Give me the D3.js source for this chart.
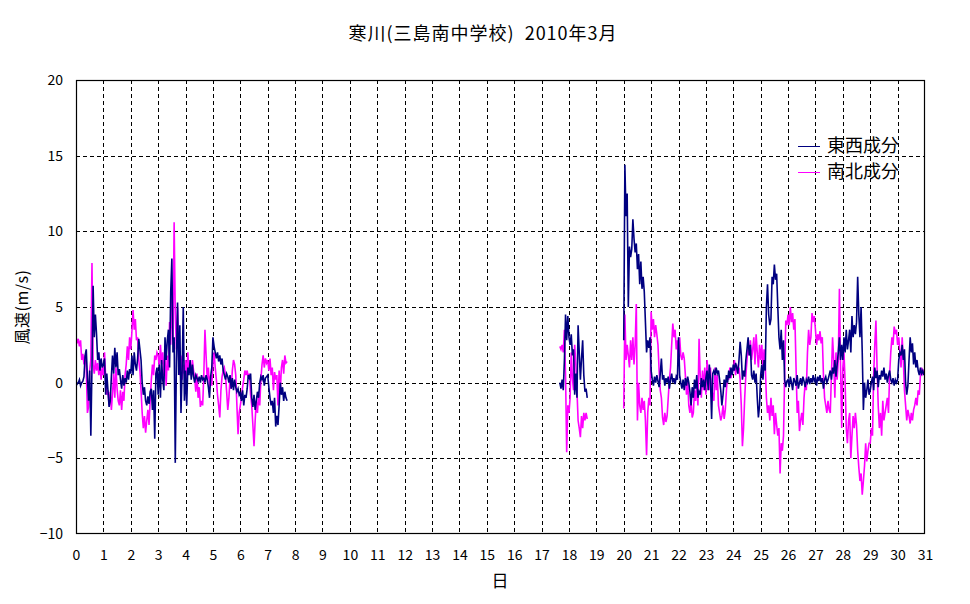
<!DOCTYPE html>
<html>
<head>
<meta charset="utf-8">
<script src="https://cdn.jsdelivr.net/npm/d3@7"></script>
<style>
  html, body { margin: 0; padding: 0; background: #fff; }
  svg { display: block; }
  text { font-family: "Noto Sans CJK JP", "Noto Sans", sans-serif; fill: #000; }
</style>
</head>
<body>
<svg id="chart" width="970" height="604"></svg>
<script>
// ---------- data (hourly values, m/s) ----------
const titleText = "寒川(三島南中学校)\u00a0\u00a02010年3月";
const yLabel = "風速(m/s)";
const xLabel = "日";
const seriesNames = ["東西成分", "南北成分"];
const dayTicks = d3.range(0, 32);
const yTicks = [-10, -5, 0, 5, 10, 15, 20];

// segment 1: starts day 0
const seg1Start = 0;
const ew1 = [
  0.1,-0.1,0.0,0.2,-0.2,0.0,0.1,0.4,1.8,2.2,0.3,-1.2,0.8,-3.5,1.0,6.4,3.0,4.5,3.2,1.5,2.0,0.8,1.6,1.0,
  1.2,1.6,-0.8,0.6,-0.5,-1.6,-1.2,0.4,1.8,0.6,2.3,1.0,2.0,0.5,0.9,0.2,-0.4,0.5,-0.2,0.3,0.0,0.8,0.2,0.9,
  0.6,1.8,0.5,2.0,1.2,0.8,1.6,2.9,2.2,1.5,0.0,-0.8,-0.3,-1.2,-1.5,-0.9,-1.4,-0.6,-0.4,-1.8,-0.5,-3.7,0.6,1.0,
  -0.8,1.2,-1.0,1.5,0.2,-0.5,3.0,1.5,2.8,3.5,1.0,6.0,8.2,2.0,3.0,-5.3,1.5,5.3,0.5,3.8,-2.0,0.8,5.0,-1.2,
  0.8,-1.5,1.0,0.5,1.5,0.2,1.2,0.4,0.0,0.5,0.3,0.1,0.4,0.0,0.5,0.2,0.3,0.0,0.5,0.2,-0.3,-1.0,0.4,1.0,
  3.0,2.4,2.0,1.6,2.0,1.4,1.8,1.2,1.6,0.8,0.5,0.2,0.6,0.4,0.0,0.5,-0.4,0.3,-0.5,0.2,-0.3,-0.6,-0.4,-0.8,
  -0.6,-1.2,-0.5,-1.5,-0.8,-1.0,-0.4,0.5,0.3,0.6,-1.0,-1.6,-0.8,-1.8,-1.2,-0.6,-1.0,0.0,0.4,0.2,0.5,-0.2,0.3,0.4,
  0.5,-0.3,-1.0,-1.5,-1.2,-2.0,-1.0,-2.9,-2.2,-2.8,-1.5,0.0,-0.8,-0.3,-1.2,-0.6,-1.0,-1.2
];
const ns1 = [
  3.0,2.6,2.9,2.4,2.8,1.5,1.9,1.2,1.8,0.9,-2.0,-1.6,0.8,1.5,7.9,1.2,0.6,1.5,0.8,1.3,0.5,1.2,0.2,1.0,
  0.5,2.0,0.3,-0.8,-0.5,-1.5,-0.6,-1.8,-0.7,0.6,-1.0,1.0,-0.4,-1.2,-1.5,-0.5,-1.8,-0.6,-1.2,0.5,1.2,2.4,1.5,3.0,
  2.2,3.4,4.8,3.5,4.2,2.8,3.0,1.5,0.8,-0.5,-2.0,-3.0,-2.2,-3.3,-2.5,-1.8,-2.8,-1.2,0.2,1.2,0.5,1.8,1.5,2.0,
  1.8,1.0,2.5,1.2,2.0,0.5,1.5,-0.2,1.8,0.8,4.0,2.5,5.8,3.0,10.6,4.5,2.2,5.0,1.5,0.5,1.8,0.2,1.2,0.6,
  1.5,0.2,2.0,0.8,1.2,0.5,1.5,0.8,0.3,-0.6,0.6,-1.0,-0.3,-1.6,-1.2,-1.5,0.5,3.5,1.8,0.2,1.0,-0.4,0.5,-0.2,
  1.2,2.0,1.0,0.2,-0.8,-1.5,-2.3,-0.5,0.4,0.8,1.0,0.5,-0.6,-1.8,-1.0,0.3,-0.4,0.8,1.5,1.2,0.5,-1.5,-3.4,-2.0,
  -1.5,-1.0,-0.3,0.2,0.8,0.5,0.8,0.3,0.6,-0.8,-1.5,-2.8,-4.2,-2.5,-1.2,-2.0,-0.8,-1.5,0.2,1.2,1.8,1.0,1.6,1.3,
  1.5,0.8,1.6,0.5,1.0,-0.5,0.7,0.2,0.5,-1.5,0.8,-0.6,1.0,1.5,0.6,1.8,1.3,1.4
];

// segment 2: starts day 17 + 16h
const seg2Start = 17 + 16 / 24;
const ew2 = [0.0,-0.4,0.2,-0.5,1.5,4.5,2.8,4.4,3.0,2.5,3.2,1.8,2.2,-0.8,0.6,-1.0,3.8,2.0,0.2,1.6,2.8,0.5,-0.6,-0.4,-1.0];
const ns2 = [2.4,2.2,2.5,2.0,3.5,0.5,-4.6,-1.5,-2.0,-1.0,2.0,0.3,-0.5,2.5,1.2,-0.5,-2.5,-3.0,-3.6,-2.2,-3.0,-2.0,-2.5,-2.0,-2.4];

// segment 3: starts day 20
const seg3Start = 20;
const ew3 = [
  2.8,14.4,11.0,12.5,5.0,9.0,8.3,8.8,10.8,9.5,8.6,9.2,7.5,8.5,6.5,8.0,6.2,7.0,6.0,4.0,2.0,2.8,2.3,3.0,
  0.8,0.2,-0.2,0.4,0.0,0.5,0.1,-0.3,0.6,1.6,0.2,0.5,-0.2,0.3,0.0,0.4,-0.4,0.2,0.6,0.0,0.3,-0.1,0.4,0.2,
  3.0,0.5,0.0,-0.4,0.2,-0.5,0.3,-0.2,0.4,0.0,-0.6,-1.5,-0.3,-1.0,0.2,-0.4,0.5,-1.0,-0.6,-0.8,0.3,-0.3,0.2,-0.5,
  0.3,0.8,-0.5,1.2,0.2,-2.4,0.6,0.8,0.5,1.0,0.6,0.8,0.2,-0.5,-1.5,-0.8,0.2,-0.3,0.5,0.0,0.8,0.3,1.0,0.5,
  1.2,0.8,1.3,1.0,0.6,1.5,2.7,1.8,0.2,0.8,0.4,1.5,2.2,3.0,1.8,2.5,0.5,0.2,0.8,0.0,0.6,-1.0,-2.3,-1.5,
  0.5,1.2,0.2,1.5,0.8,5.0,6.5,4.5,3.8,4.2,7.0,6.5,7.8,6.8,7.2,5.0,3.0,2.2,3.5,1.5,2.8,0.2,-0.3,0.1,
  0.2,-0.3,0.4,0.0,-0.5,0.3,0.1,-0.2,0.5,-0.4,0.0,0.3,-0.2,0.4,0.1,-0.3,0.2,0.0,0.4,-0.1,0.3,0.0,0.5,0.1,
  0.3,-0.2,0.4,0.1,0.5,0.0,0.3,-0.4,0.2,0.4,0.0,0.2,0.5,0.8,0.2,1.0,0.6,1.5,0.4,1.2,2.0,3.0,1.5,2.5,
  1.5,3.0,2.0,3.5,2.2,2.8,3.5,2.0,4.4,3.0,3.8,3.2,4.0,7.0,4.5,3.0,5.0,2.0,-1.8,0.0,-1.0,-0.5,0.2,-0.8,
  -0.5,0.0,0.4,-0.5,1.0,0.3,0.8,-0.3,0.5,0.2,0.8,0.4,1.0,0.2,0.6,0.0,0.5,0.8,0.2,0.0,0.3,-0.2,0.2,0.0,
  0.2,1.5,2.0,1.8,2.5,1.5,2.2,0.0,-0.8,-0.2,1.5,3.0,2.0,2.6,1.2,2.0,1.0,1.5,0.8,0.5,1.0,0.6,0.8,0.5,
  0.8
];
const ns3 = [
  -1.7,4.5,1.5,2.5,1.8,1.0,2.8,1.5,3.0,1.2,2.5,5.2,-2.5,0.0,-1.5,-2.0,-1.0,-1.8,-1.2,-2.5,-4.8,-2.0,-1.0,-1.5,
  4.7,3.5,4.2,3.0,3.8,3.2,2.5,0.8,-0.5,-1.0,-2.3,-2.8,-2.0,-2.6,-2.2,-1.0,0.2,1.0,2.5,3.9,3.0,3.5,2.2,2.8,
  1.2,3.0,1.8,1.5,2.0,1.6,0.5,-0.8,0.2,-1.5,-2.0,-1.2,-2.3,-2.0,-0.5,-1.2,0.0,-1.5,2.9,0.5,-1.0,0.8,-0.5,1.0,
  -0.8,1.5,0.5,-0.5,1.0,-1.0,-0.8,-1.2,1.0,-0.5,0.5,-1.5,-2.0,-2.5,-2.2,-1.5,-2.4,-1.8,-0.5,0.5,0.2,1.0,0.3,0.8,
  0.8,1.5,0.5,1.2,0.6,1.0,0.2,-1.5,-4.2,-3.0,-1.0,0.5,1.5,2.5,1.8,2.8,1.5,2.2,3.0,1.2,3.2,2.0,1.0,2.5,
  1.5,2.5,1.0,2.2,1.2,-1.0,-2.0,-1.5,-2.5,-1.0,-2.2,-1.5,-3.4,-2.0,-2.8,-3.5,-3.0,-6.0,-4.0,-4.5,-3.5,0.5,4.1,3.8,
  4.5,3.8,5.0,4.0,4.6,3.5,4.2,1.0,-2.0,-1.2,-3.2,-2.5,-2.0,-2.8,-1.0,0.0,-0.5,2.0,3.5,2.5,3.0,4.6,4.0,4.4,
  3.5,2.5,3.2,2.8,3.4,2.6,3.0,0.5,-1.0,-1.5,-2.0,-1.2,-1.8,-2.0,0.5,3.0,1.5,-1.0,2.0,0.2,1.5,6.2,1.0,-3.0,
  1.0,2.0,0.0,-3.0,-4.0,-2.5,-2.0,-5.0,-3.5,-2.2,-3.0,-2.0,-2.8,-4.5,-5.6,-6.5,-6.0,-7.4,-6.5,-5.5,-4.0,-5.2,-4.5,-4.0,
  -4.0,-3.0,-3.5,0.5,2.5,4.1,1.0,-1.5,-3.0,-2.0,-3.5,-1.2,-2.5,-2.0,-1.5,-1.0,-2.0,0.5,2.0,3.0,2.5,3.7,3.2,3.5,
  2.5,3.0,2.0,1.0,3.0,1.5,-0.5,-1.5,-2.5,-1.8,-2.2,-2.7,-2.0,-2.5,-1.8,-1.5,-1.0,-1.5,-0.5,-0.8,0.5,1.0,0.6,0.8,
  0.7
];

// ---------- layout ----------
const colors = ["#000080", "#FF00FF"];
const L = 76, R = 925, T = 80, B = 534;
const svg = d3.select("#chart");

const x = d3.scaleLinear().domain([0, 31]).range([L, R]);
const y = d3.scaleLinear().domain([-10, 20]).range([B, T]);
const px = v => Math.round(v) + 0.5;

// gridlines
const grid = svg.append("g");
grid.selectAll("line.v").data(dayTicks.filter(d => d > 0 && d < 31)).join("line")
  .attr("x1", d => px(x(d))).attr("x2", d => px(x(d)))
  .attr("y1", T).attr("y2", B)
  .attr("stroke", "#000").attr("stroke-width", 1).attr("stroke-dasharray", "4,3");
grid.selectAll("line.h").data(yTicks.filter(d => d > -10 && d < 20)).join("line")
  .attr("y1", d => px(y(d))).attr("y2", d => px(y(d)))
  .attr("x1", L).attr("x2", R)
  .attr("stroke", "#000").attr("stroke-width", 1).attr("stroke-dasharray", "4,3");

// series
function segs(arr, start) {
  return arr.map((v, i) => ({ t: start + i / 24, v }));
}
const series = [
  [segs(ew1, seg1Start), segs(ew2, seg2Start), segs(ew3, seg3Start)],
  [segs(ns1, seg1Start), segs(ns2, seg2Start), segs(ns3, seg3Start)]
];
const line = d3.line().x(d => x(d.t)).y(d => y(d.v));
svg.append("clipPath").attr("id", "clip").append("rect")
  .attr("x", L).attr("y", T).attr("width", R - L).attr("height", B - T);
const plot = svg.append("g").attr("clip-path", "url(#clip)");
[1, 0].forEach(si => {
  plot.append("g").selectAll("path").data(series[si]).join("path")
    .attr("d", line)
    .attr("fill", "none")
    .attr("stroke", colors[si])
    .attr("stroke-width", 1.6)
    .attr("stroke-linejoin", "miter");
});

// frame
svg.append("rect").attr("x", L + 0.5).attr("y", T + 0.5)
  .attr("width", R - L - 1).attr("height", B - T - 1)
  .attr("fill", "none").attr("stroke", "#000").attr("stroke-width", 1.2);

// axes
const xAxis = svg.append("g").attr("transform", `translate(0,${B})`)
  .call(d3.axisBottom(x).tickValues(dayTicks).tickSize(0).tickPadding(16).tickFormat(d3.format("d")));
xAxis.select(".domain").remove();
xAxis.selectAll("text").style("font-size", "14px").style("font-family", "'Noto Sans CJK JP', sans-serif").attr("fill", "#000");

const yAxis = svg.append("g").attr("transform", `translate(${L},0)`)
  .call(d3.axisLeft(y).tickValues(yTicks).tickSize(0).tickPadding(13));
yAxis.select(".domain").remove();
yAxis.selectAll("text").style("font-size", "14px").style("font-family", "'Noto Sans CJK JP', sans-serif").attr("fill", "#000");

// titles
svg.append("text").attr("x", 483).attr("y", 40).attr("text-anchor", "middle")
  .style("font-size", "18px").style("letter-spacing", "1px").text(titleText);
svg.append("text").attr("x", 500).attr("y", 587).attr("text-anchor", "middle")
  .style("font-size", "17px").text(xLabel);
svg.append("text").attr("transform", "translate(28,307) rotate(-90)").attr("text-anchor", "middle")
  .style("font-size", "16px").style("letter-spacing", "0.5px").text(yLabel);

// legend
const leg = svg.append("g");
seriesNames.forEach((name, i) => {
  const yy = 146 + i * 26;
  leg.append("line").attr("x1", 798).attr("x2", 820).attr("y1", yy + 0.5).attr("y2", yy + 0.5)
    .attr("stroke", colors[i]).attr("stroke-width", 1);
  leg.append("text").attr("x", 827).attr("y", yy + 6).style("font-size", "18px").text(name);
});
</script>
</body>
</html>
